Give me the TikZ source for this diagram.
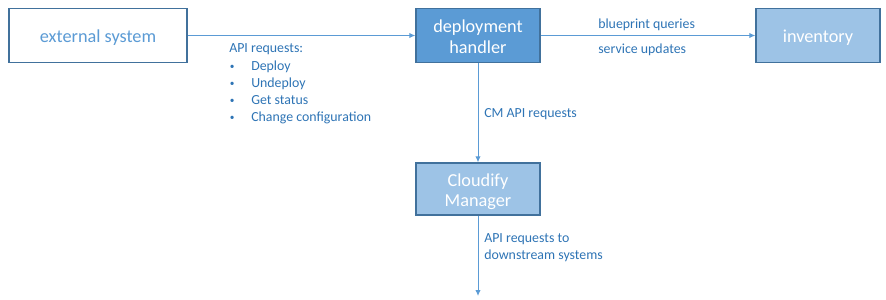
\documentclass[tikz,border=0pt]{standalone}
\usepackage{fontspec}
\setmainfont{Carlito}
\usetikzlibrary{arrows.meta}
\definecolor{edgeblue}{HTML}{41719C}
\definecolor{midblue}{HTML}{5B9BD5}
\definecolor{paleblue}{HTML}{9DC3E6}
\definecolor{labelblue}{HTML}{2E74B5}
\tikzset{
  box/.style={draw=edgeblue, line width=0.9pt, minimum width=93pt, minimum height=40pt, inner sep=0pt},
  outerbox/.style={box, fill=white, minimum width=133.5pt},
  darkbox/.style={box, fill=midblue},
  lightbox/.style={box, fill=paleblue},
  boxtext/.style={align=center, inner sep=0pt, text=white, font=\fontsize{13.7}{15.5}\selectfont},
  flow/.style={draw=midblue, line width=0.75pt, -{Latex[length=4.5pt,width=4pt]}},
  lbl/.style={text=labelblue, font=\fontsize{10.4}{12.75}\selectfont, inner sep=0pt, anchor=west, align=left},
  dot/.style={lbl, font=\fontsize{7}{8}\selectfont}
}
\begin{document}
\begin{tikzpicture}[x=0.75pt,y=-0.75pt]
  \useasboundingbox (0,0) rectangle (886,300);

  % boxes
  \node[outerbox] (ext) at (98,35.5) {};
  \node[darkbox] (dh) at (478,35.5) {};
  \node[lightbox] (inv) at (818,35.5) {};
  \node[lightbox, minimum height=39pt] (cm) at (478,189) {};
  \coordinate (down) at (478,296);

  % box captions, set a little below the geometric centre
  \node[boxtext, text=midblue] (ext-t) at ([yshift=-1.5pt]ext.center) {external system};
  \node[boxtext] (dh-t) at ([yshift=-1pt]dh.center) {deployment\\handler};
  \node[boxtext] (inv-t) at ([yshift=-1.5pt]inv.center) {inventory};
  \node[boxtext] (cm-t) at ([yshift=-2pt]cm.center) {Cloudify\\Manager};

  % connectors
  \draw[flow] (ext.east) -- (dh.west);
  \draw[flow] (dh.east) -- (inv.west);
  \draw[flow] (dh.south) -- (cm.north);
  \draw[flow] (cm.south) -- (down);

  % labels
  \node[lbl] (apireq) at (229,49.5) {API requests:};
  \foreach \i/\t in {0/Deploy,1/Undeploy,2/Get status,3/Change configuration}{
    \node[dot] (b\i) at (229.5,67+17*\i) {\textbullet};
    \node[lbl] (t\i) at (251,66.5+17*\i) {\t};
  }
  \node[lbl] (bq) at (598,25) {blueprint queries};
  \node[lbl] (su) at (598,50) {service updates};
  \node[lbl] (cmapi) at (484,114.5) {CM API requests};
  \node[lbl] (ds) at (484,248) {API requests to\\downstream systems};
\end{tikzpicture}
\end{document}
